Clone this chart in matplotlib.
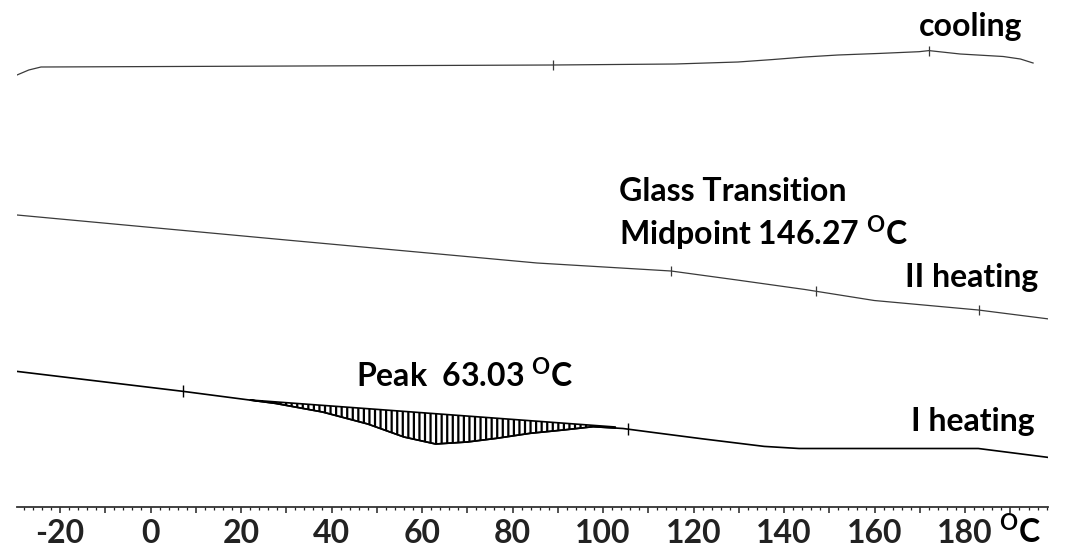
import numpy as np
import matplotlib
matplotlib.use("Agg")
import matplotlib.pyplot as plt
from matplotlib.ticker import MultipleLocator, FuncFormatter

plt.rcParams['font.family'] = ['Lato', 'DejaVu Sans']
plt.rcParams['font.weight'] = 'bold'
plt.rcParams['mathtext.fontset'] = 'custom'
plt.rcParams['mathtext.rm'] = 'Lato:bold'
plt.rcParams['mathtext.bf'] = 'Lato:bold'
plt.rcParams['hatch.linewidth'] = 1.6

# DSC curves, heat flow in arbitrary units (curves offset vertically)
cool_T = [-29.5, -26.9, -24.2, 33, 89, 115.9, 129.8, 137.3, 144.6, 151.9,
          161.2, 169.8, 172.0, 178.9, 188.4, 192.2, 195.0]
cool_hf = [4.32, 4.37, 4.40, 4.41, 4.42, 4.43, 4.45, 4.474, 4.50, 4.52,
           4.536, 4.553, 4.564, 4.53, 4.505, 4.48, 4.44]

heat2_T = [-29.5, 30, 85.4, 115.0, 129.6, 144.6, 159.9, 182.9, 199.4]
heat2_hf = [2.92, 2.67, 2.44, 2.36, 2.27, 2.175, 2.065, 1.97, 1.875]

heat1_T = [-29.5, 7.1, 27.6, 38.0, 48.0, 56.0, 63.0, 70.0, 76.5, 83.9, 91.2,
           97.8, 104.4, 111.3, 121.9, 135.6, 143.3, 182.9, 199.4]
heat1_hf = [1.356, 1.157, 1.036, 0.95, 0.83, 0.70, 0.63, 0.65, 0.687, 0.737,
            0.77, 0.803, 0.785, 0.744, 0.682, 0.606, 0.585, 0.585, 0.49]

# integration baseline of the melting peak
base_T = [22.0, 102.7]
base_hf = [1.07, 0.80]

# small evaluation marks on the curves
cool_marks = [89, 172]
heat2_marks = [115, 147, 183]
heat1_marks = [7.1, 105.5]

fig = plt.figure(figsize=(10.67, 5.47), dpi=100)
ax = fig.add_axes([17 / 1067, 40 / 547, 1031 / 1067, 507 / 547])

ax.plot(cool_T, cool_hf, color='#3a3a3a', lw=0.9)
ax.plot(heat2_T, heat2_hf, color='#3a3a3a', lw=0.9)
ax.plot(heat1_T, heat1_hf, color='black', lw=1.2)

ax.plot(cool_marks, np.interp(cool_marks, cool_T, cool_hf), ls='none',
        marker='|', ms=7, color='#3a3a3a', mew=0.9)
ax.plot(heat2_marks, np.interp(heat2_marks, heat2_T, heat2_hf), ls='none',
        marker='|', ms=7, color='#3a3a3a', mew=0.9)
ax.plot(heat1_marks, np.interp(heat1_marks, heat1_T, heat1_hf), ls='none',
        marker='|', ms=8, color='black', mew=1.0)

# hatched peak area between baseline and curve
tt = np.linspace(base_T[0], base_T[1], 400)
curve = np.interp(tt, heat1_T, heat1_hf)
base = np.interp(tt, base_T, base_hf)
ax.fill_between(tt, base, curve, where=curve <= base, facecolor='white',
                edgecolor='black', hatch='|||', lw=1.2, interpolate=True)

fs = 23
ax.text(169.8, 4.715, 'cooling', fontsize=fs, fontweight='bold')
ax.text(103.5, 3.063, 'Glass Transition', fontsize=fs, fontweight='bold')
ax.text(103.5, 2.623, r'Midpoint 146.27 $^{\mathbf{O}}$C', fontsize=fs,
        fontweight='bold')
ax.text(166.7, 2.203, 'II heating', fontsize=fs, fontweight='bold')
ax.text(45.5, 1.20, r'Peak  63.03 $^{\mathbf{O}}$C', fontsize=fs,
        fontweight='bold')
ax.text(168.0, 0.76, 'I heating', fontsize=fs, fontweight='bold')
ax.text(187.5, -0.36, r'$^{\mathbf{O}}$C', fontsize=fs, fontweight='bold',
        va='baseline', clip_on=False)

ax.set_xlim(-29.5, 198.3)
ax.set_ylim(0, 5.07)
for s in ['top', 'left', 'right']:
    ax.spines[s].set_visible(False)
ax.spines['bottom'].set_linewidth(1.3)
ax.spines['bottom'].set_color('#333333')
ax.set_yticks([])
ax.xaxis.set_major_locator(MultipleLocator(10))
ax.xaxis.set_minor_locator(MultipleLocator(2))
ax.xaxis.set_major_formatter(
    FuncFormatter(lambda v, p: '%d' % v if round(v) % 20 == 0 and v < 190 else ''))
ax.tick_params(axis='x', which='major', length=4.5, width=1.1, direction='out',
               labelsize=fs, pad=4, colors='#222222')
ax.tick_params(axis='x', which='minor', length=2.2, width=0.9, direction='out',
               colors='#222222')
for lab in ax.get_xticklabels():
    lab.set_fontweight('bold')

fig.savefig('out.png', dpi=100, facecolor='white')
